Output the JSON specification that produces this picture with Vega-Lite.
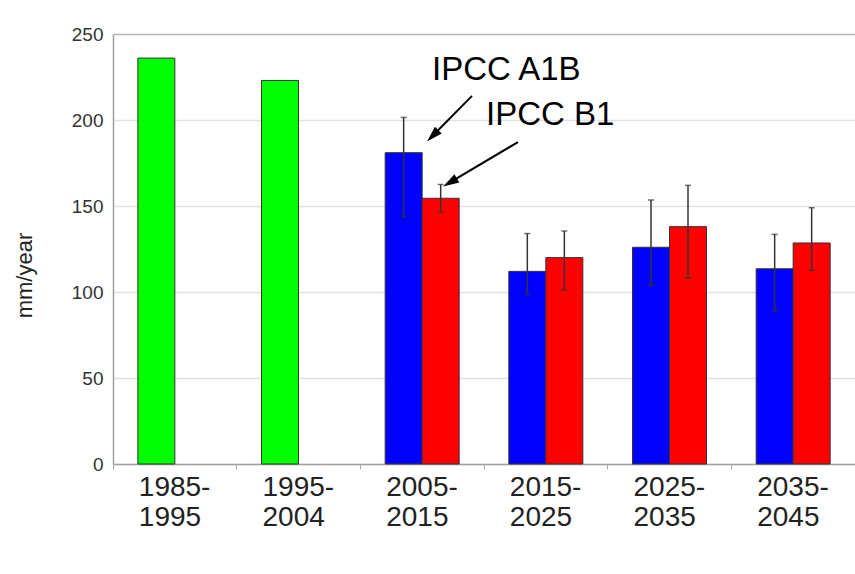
{
  "$schema": "https://vega.github.io/schema/vega-lite/v6.json",
  "autosize": "none",
  "width": 742,
  "height": 430,
  "padding": {"left": 113, "top": 34, "right": 0, "bottom": 110},
  "background": "white",
  "config": {
    "view": {"stroke": null},
    "font": "Liberation Sans",
    "axisX": {
      "labelAngle": 0, "labelFontSize": 28, "labelColor": "#222222",
      "labelExpr": "isString(datum.value) ? [slice(datum.value,0,5), slice(datum.value,5)] : ''",
      "labelLineHeight": 30, "labelAlign": "left", "labelBaseline": "top",
      "bandPosition": 0, "labelOffset": -36, "labelPadding": 4,
      "tickSize": 5, "tickColor": "#aaaaaa",
      "domainColor": "#a0a0a0", "domainWidth": 1.5
    },
    "axisY": {
      "titleFontSize": 22, "titleFontWeight": "normal", "titleColor": "#222222",
      "titleX": -89, "titleY": 241, "titleBaseline": "middle", "titleAngle": -90, "titleAlign": "center",
      "labelFontSize": 19, "labelColor": "#333333", "labelPadding": 10, "ticks": false,
      "domainColor": "#a0a0a0", "domainWidth": 1.5,
      "gridColor": {"condition": {"test": "datum.value === 250", "value": "#b5b5b5"}, "value": "#e2e2e2"},
      "gridWidth": 1.5, "tickCount": 5
    }
  },
  "datasets": {
    "bars": [
      {"period": "1985-1995", "series": "Observed", "slot": "A", "value": 236},
      {"period": "1995-2004", "series": "Observed", "slot": "A", "value": 223},
      {"period": "2005-2015", "series": "IPCC A1B", "slot": "A", "value": 181, "lo": 143.5, "hi": 201.5},
      {"period": "2005-2015", "series": "IPCC B1", "slot": "B", "value": 154.5, "lo": 146.5, "hi": 162.5},
      {"period": "2015-2025", "series": "IPCC A1B", "slot": "A", "value": 112, "lo": 98.5, "hi": 134},
      {"period": "2015-2025", "series": "IPCC B1", "slot": "B", "value": 120, "lo": 101, "hi": 135.5},
      {"period": "2025-2035", "series": "IPCC A1B", "slot": "A", "value": 126, "lo": 104, "hi": 153.5},
      {"period": "2025-2035", "series": "IPCC B1", "slot": "B", "value": 138, "lo": 108, "hi": 162},
      {"period": "2035-2045", "series": "IPCC A1B", "slot": "A", "value": 113.5, "lo": 89, "hi": 133.5},
      {"period": "2035-2045", "series": "IPCC B1", "slot": "B", "value": 128.5, "lo": 112.5, "hi": 149}
    ],
    "labels": [
      {"label": "IPCC A1B", "period": "2005-2015", "ay": 223.1},
      {"label": "IPCC B1", "period": "2005-2015", "ay": 196.9}
    ],
    "arrows": [
      {"arrow": "A1B", "period": "2005-2015", "y1": 214.0, "y2": 190.8},
      {"arrow": "B1", "period": "2005-2015", "y1": 187.2, "y2": 163.7}
    ]
  },
  "layer": [
    {
      "data": {"name": "bars"},
      "encoding": {
        "x": {"field": "period", "type": "nominal", "title": null, "scale": {"paddingInner": 0, "paddingOuter": 0}},
        "xOffset": {"field": "slot", "type": "nominal", "scale": {"domain": ["A", "B"], "paddingInner": 0, "paddingOuter": 0.671}}
      },
      "layer": [
        {
          "mark": {"type": "bar", "stroke": "#333333", "strokeWidth": 1},
          "encoding": {
            "y": {"field": "value", "type": "quantitative", "title": "mm/year", "scale": {"domain": [0, 250]}, "stack": null},
            "color": {
              "field": "series", "type": "nominal",
              "scale": {"domain": ["Observed", "IPCC A1B", "IPCC B1"], "range": ["#00ff00", "#0000ff", "#ff0000"]},
              "legend": null
            }
          }
        },
        {
          "transform": [{"filter": "isValid(datum.lo)"}],
          "mark": {"type": "rule", "color": "#333333", "strokeWidth": 1.5},
          "encoding": {
            "y": {"field": "lo", "type": "quantitative", "title": "mm/year", "scale": {"domain": [0, 250]}},
            "y2": {"field": "hi"}
          }
        },
        {
          "transform": [{"filter": "isValid(datum.lo)"}],
          "mark": {"type": "tick", "color": "#333333", "size": 6, "thickness": 1.5},
          "encoding": {"y": {"field": "lo", "type": "quantitative", "title": "mm/year", "scale": {"domain": [0, 250]}}}
        },
        {
          "transform": [{"filter": "isValid(datum.hi)"}],
          "mark": {"type": "tick", "color": "#333333", "size": 6, "thickness": 1.5},
          "encoding": {"y": {"field": "hi", "type": "quantitative", "title": "mm/year", "scale": {"domain": [0, 250]}}}
        }
      ]
    },
    {
      "data": {"name": "labels"},
      "transform": [{"filter": "datum.label === 'IPCC A1B'"}],
      "mark": {"type": "text", "align": "left", "baseline": "alphabetic", "fontSize": 33, "color": "#000000"},
      "encoding": {
        "x": {"field": "period", "type": "nominal", "title": null, "bandPosition": 0.58},
        "y": {"field": "ay", "type": "quantitative", "title": "mm/year", "scale": {"domain": [0, 250]}},
        "text": {"field": "label"}
      }
    },
    {
      "data": {"name": "labels"},
      "transform": [{"filter": "datum.label === 'IPCC B1'"}],
      "mark": {"type": "text", "align": "left", "baseline": "alphabetic", "fontSize": 33, "color": "#000000"},
      "encoding": {
        "x": {"field": "period", "type": "nominal", "title": null, "bandPosition": 1.016},
        "y": {"field": "ay", "type": "quantitative", "title": "mm/year", "scale": {"domain": [0, 250]}},
        "text": {"field": "label"}
      }
    },
    {
      "data": {"name": "arrows"},
      "transform": [{"filter": "datum.arrow === 'A1B'"}],
      "layer": [
        {
          "mark": {"type": "rule", "color": "#000000", "strokeWidth": 2},
          "encoding": {
            "x": {"field": "period", "type": "nominal", "title": null, "bandPosition": 0.903},
            "x2": {"field": "period", "bandPosition": 0.585},
            "y": {"field": "y1", "type": "quantitative", "title": "mm/year", "scale": {"domain": [0, 250]}},
            "y2": {"field": "y2"}
          }
        },
        {
          "mark": {"type": "point", "filled": true, "color": "#000000", "opacity": 1, "size": 256, "angle": 225, "shape": "M0,-1L0.6,1L-0.6,1Z"},
          "encoding": {
            "x": {"field": "period", "type": "nominal", "title": null, "bandPosition": 0.585},
            "y": {"field": "y2", "type": "quantitative", "title": "mm/year", "scale": {"domain": [0, 250]}}
          }
        }
      ]
    },
    {
      "data": {"name": "arrows"},
      "transform": [{"filter": "datum.arrow === 'B1'"}],
      "layer": [
        {
          "mark": {"type": "rule", "color": "#000000", "strokeWidth": 2},
          "encoding": {
            "x": {"field": "period", "type": "nominal", "title": null, "bandPosition": 1.275},
            "x2": {"field": "period", "bandPosition": 0.725},
            "y": {"field": "y1", "type": "quantitative", "title": "mm/year", "scale": {"domain": [0, 250]}},
            "y2": {"field": "y2"}
          }
        },
        {
          "mark": {"type": "point", "filled": true, "color": "#000000", "opacity": 1, "size": 256, "angle": 239.3, "shape": "M0,-1L0.6,1L-0.6,1Z"},
          "encoding": {
            "x": {"field": "period", "type": "nominal", "title": null, "bandPosition": 0.725},
            "y": {"field": "y2", "type": "quantitative", "title": "mm/year", "scale": {"domain": [0, 250]}}
          }
        }
      ]
    }
  ]
}
